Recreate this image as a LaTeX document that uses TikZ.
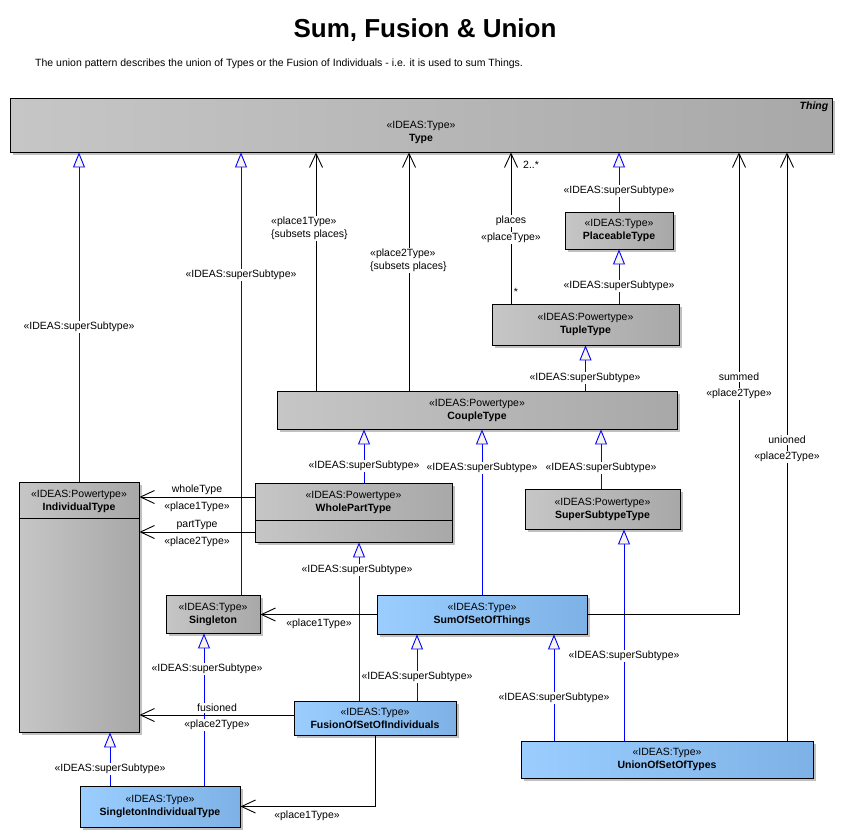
\documentclass[tikz,border=0pt]{standalone}
\usepackage{fontspec}
\setmainfont{Liberation Sans}
\usetikzlibrary{arrows.meta,shadows,calc}
\definecolor{gL}{RGB}{198,198,198}
\definecolor{gR}{RGB}{168,168,168}
\definecolor{bL}{RGB}{155,206,255}
\definecolor{bR}{RGB}{126,178,230}
\definecolor{cream}{RGB}{248,244,234}
\definecolor{shd}{RGB}{192,192,192}
\definecolor{genblue}{RGB}{0,0,255}
\tikzset{
  box/.style={draw=black, line width=0.9pt, inner sep=0pt,
    general shadow={fill=shd, shadow xshift=3pt, shadow yshift=-3pt}},
  gbox/.style={box, left color=gL, right color=gR},
  bbox/.style={box, left color=bL, right color=bR},
  txt/.style={font=\fontsize{10.5}{13}\selectfont, align=center},
  gen/.style={draw=genblue, line width=0.9pt, -{Triangle[length=15pt,width=12pt,fill=cream]}},
  assoc/.style={draw=black, line width=0.9pt, -{Straight Barb[length=14pt,width=13pt]}},
  lbl/.style={font=\fontsize{10.5}{13}\selectfont, fill=white, inner sep=1pt, align=center},
  plain/.style={font=\fontsize{10.5}{13}\selectfont, inner sep=1pt, align=left},
}
\begin{document}
\begin{tikzpicture}[x=1pt,y=-1pt]
\fill[white] (0,0) rectangle (842,838);
\useasboundingbox (0,0) rectangle (842,838);

% title
\node[font=\fontsize{26}{30}\selectfont\bfseries, inner sep=0pt] (title) at (425,30) {Sum, Fusion \& Union};
\node[plain, anchor=west] (subtitle) at (34,64) {The union pattern describes the union of Types or the Fusion of Individuals - i.e. it is used to sum Things.};

% boxes
\node[gbox, minimum width=822pt, minimum height=54pt] (type) at (421,125) {};
\node[txt] (typeT) at ([yshift=-34.5pt]type.north) {«IDEAS:Type»\\\textbf{Type}};
\node[txt, font=\fontsize{10.5}{13}\selectfont\bfseries\itshape, anchor=north east, inner sep=0pt] (thing) at ([xshift=-4pt,yshift=-4pt]type.north east) {Thing};

\node[gbox, txt, minimum width=108pt, minimum height=37pt] (placeable) at (619,230.5) {«IDEAS:Type»\\\textbf{PlaceableType}};
\node[gbox, txt, minimum width=187pt, minimum height=41pt] (tuple) at (585.5,324.5) {«IDEAS:Powertype»\\\textbf{TupleType}};
\node[gbox, txt, minimum width=400pt, minimum height=38pt] (couple) at (477,410) {«IDEAS:Powertype»\\\textbf{CoupleType}};

\node[gbox, minimum width=197pt, minimum height=59pt] (wholepart) at (353.5,512.5) {};
\draw[line width=0.9pt] ([yshift=-38pt]wholepart.north west) -- ([yshift=-38pt]wholepart.north east);
\node[txt] (wholepartT) at ([yshift=-19.5pt]wholepart.north) {«IDEAS:Powertype»\\\textbf{WholePartType}};

\node[gbox, minimum width=120pt, minimum height=250pt] (individual) at (79,607) {};
\draw[line width=0.9pt] ([yshift=-37pt]individual.north west) -- ([yshift=-37pt]individual.north east);
\node[txt] (individualT) at ([yshift=-19.5pt]individual.north) {«IDEAS:Powertype»\\\textbf{IndividualType}};

\node[gbox, txt, minimum width=94pt, minimum height=38pt] (singleton) at (213,614) {«IDEAS:Type»\\\textbf{Singleton}};
\node[bbox, txt, minimum width=210pt, minimum height=39pt] (sum) at (482,614.5) {«IDEAS:Type»\\\textbf{SumOfSetOfThings}};
\node[gbox, txt, minimum width=155pt, minimum height=40pt] (supersub) at (602.5,509) {«IDEAS:Powertype»\\\textbf{SuperSubtypeType}};
\node[bbox, txt, minimum width=162pt, minimum height=34pt] (fusion) at (375,718) {«IDEAS:Type»\\\textbf{FusionOfSetOfIndividuals}};
\node[bbox, txt, minimum width=160pt, minimum height=41pt] (singind) at (160,806.5) {«IDEAS:Type»\\\textbf{SingletonIndividualType}};
\node[bbox, txt, minimum width=292pt, minimum height=37pt] (union) at (667,759.5) {«IDEAS:Type»\\\textbf{UnionOfSetOfTypes}};

% generalizations
\draw[gen] (individual.north) -- (individual.north |- type.south);
\draw[gen] ([xshift=28pt]singleton.north) -- ([xshift=28pt]singleton.north |- type.south);
\draw[gen] (placeable.north) -- (placeable.north |- type.south);
\draw[gen] (placeable.south |- tuple.north) -- (placeable.south);
\draw[gen] (tuple.south |- couple.north) -- (tuple.south);
\draw[gen] ([xshift=10.5pt]wholepart.north) -- ([xshift=10.5pt]wholepart.north |- couple.south);
\draw[gen] (sum.north) -- (sum.north |- couple.south);
\draw[gen] ([xshift=-1.5pt]supersub.north) -- ([xshift=-1.5pt]supersub.north |- couple.south);
\draw[gen] ([xshift=-16pt]fusion.north) -- ([xshift=-16pt]fusion.north |- wholepart.south);
\draw[gen] ([xshift=42pt]fusion.north) -- ([xshift=42pt]fusion.north |- sum.south);
\draw[gen] ([xshift=-113pt]union.north) -- ([xshift=-113pt]union.north |- sum.south);
\draw[gen] ([xshift=-43pt]union.north) -- ([xshift=-43pt]union.north |- supersub.south);
\draw[gen] ([xshift=44pt]singind.north) -- ([xshift=44pt]singind.north |- singleton.south);
\draw[gen] ([xshift=-50pt]singind.north) -- ([xshift=-50pt]singind.north |- individual.south);

% associations
\draw[assoc] ([xshift=-161pt]couple.north) -- ([xshift=-161pt]couple.north |- type.south);
\draw[assoc] ([xshift=-68pt]couple.north) -- ([xshift=-68pt]couple.north |- type.south);
\draw[assoc] ([xshift=-74.5pt]tuple.north) -- ([xshift=-74.5pt]tuple.north |- type.south);
\draw[assoc] ([yshift=15.5pt]wholepart.west) -- ([yshift=15.5pt]wholepart.west -| individual.east);
\draw[assoc] ([yshift=-19.5pt]wholepart.west) -- ([yshift=-19.5pt]wholepart.west -| individual.east);
\draw[assoc] (sum.west) -- (sum.west -| singleton.east);
\draw[assoc] (sum.east) -| ([xshift=318pt]type.south);
\draw[assoc] ([xshift=120pt]union.north) -- ([xshift=120pt]union.north |- type.south);
\draw[assoc] ([yshift=3pt]fusion.west) -- ([yshift=3pt]fusion.west -| individual.east);
\draw[assoc] (fusion.south) |- (singind.east);

% labels
\node[lbl] (l1) at (79,327) {«IDEAS:superSubtype»};
\node[lbl] (l2) at (241,275) {«IDEAS:superSubtype»};
\node[lbl, anchor=west, align=left] (l3) at (270,228.5) {«place1Type»\\\{subsets places\}};
\node[lbl, anchor=west, align=left] (l4) at (369,260.5) {«place2Type»\\\{subsets places\}};
\node[plain, anchor=west] (l5) at (522,165) {2..*};
\node[lbl] (l6) at (511,221) {places};
\node[lbl] (l7) at (511,238) {«placeType»};
\node[plain] (l8) at (516,292) {*};
\node[lbl] (l9) at (619,191) {«IDEAS:superSubtype»};
\node[lbl] (l10) at (619,286) {«IDEAS:superSubtype»};
\node[lbl] (l11) at (585,378) {«IDEAS:superSubtype»};
\node[lbl] (l12) at (739,377) {summed};
\node[lbl] (l13) at (739,394) {«place2Type»};
\node[lbl] (l14) at (787,440) {unioned};
\node[lbl] (l15) at (787,457) {«place2Type»};
\node[lbl] (l16) at (364,466) {«IDEAS:superSubtype»};
\node[lbl] (l17) at (482,468) {«IDEAS:superSubtype»};
\node[lbl] (l18) at (601,468) {«IDEAS:superSubtype»};
\node[lbl] (l19) at (197,490) {wholeType};
\node[lbl] (l20) at (197,507) {«place1Type»};
\node[lbl] (l21) at (197,525) {partType};
\node[lbl] (l22) at (197,542) {«place2Type»};
\node[lbl] (l23) at (357,570) {«IDEAS:superSubtype»};
\node[lbl] (l24) at (319,624) {«place1Type»};
\node[lbl] (l25) at (417,677) {«IDEAS:superSubtype»};
\node[lbl] (l26) at (624,656) {«IDEAS:superSubtype»};
\node[lbl] (l27) at (554,698) {«IDEAS:superSubtype»};
\node[lbl] (l28) at (207,669) {«IDEAS:superSubtype»};
\node[lbl] (l29) at (217,708) {fusioned};
\node[lbl] (l30) at (217,725) {«place2Type»};
\node[lbl] (l31) at (110,769) {«IDEAS:superSubtype»};
\node[lbl] (l32) at (307,816) {«place1Type»};
\end{tikzpicture}
\end{document}
